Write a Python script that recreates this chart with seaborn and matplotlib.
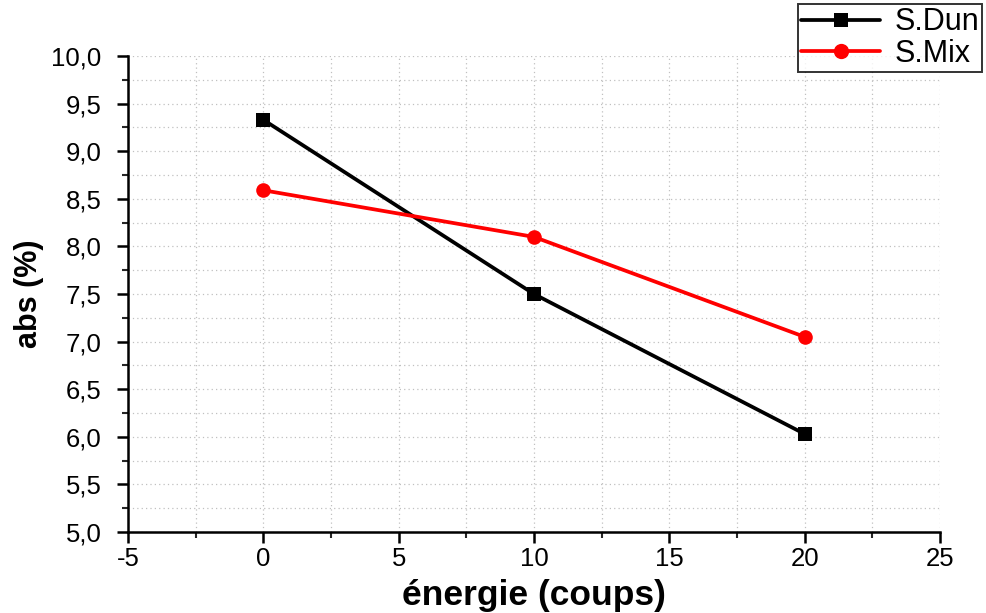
import matplotlib
matplotlib.use("Agg")
import matplotlib.pyplot as plt
import seaborn as sns
import pandas as pd
from matplotlib.ticker import MultipleLocator, FuncFormatter
from matplotlib.lines import Line2D

energie = [0, 10, 20]
s_dun = [9.33, 7.50, 6.03]
s_mix = [8.59, 8.10, 7.05]
series_names = ["S.Dun", "S.Mix"]

sns.set_style("white")
plt.rcParams['font.family'] = ['Liberation Sans', 'DejaVu Sans']
plt.rcParams['text.color'] = 'black'
plt.rcParams['axes.labelcolor'] = 'black'

df = pd.DataFrame({
    "energie": energie * 2,
    "abs": s_dun + s_mix,
    "serie": [series_names[0]] * 3 + [series_names[1]] * 3,
})

fig = plt.figure(figsize=(9.86, 6.13), dpi=100)
ax = fig.add_axes([0.1298, 0.1321, 0.8235, 0.7765])

sns.lineplot(data=df, x="energie", y="abs", hue="serie", style="serie",
             palette={"S.Dun": "black", "S.Mix": "#ff0000"},
             markers={"S.Dun": "s", "S.Mix": "o"}, dashes=False,
             linewidth=2.7, markersize=10.5, markeredgewidth=0, ax=ax, legend=False)

ax.set_xlim(-5, 25)
ax.set_ylim(5.0, 10.0)
ax.xaxis.set_major_locator(MultipleLocator(5))
ax.xaxis.set_minor_locator(MultipleLocator(2.5))
ax.yaxis.set_major_locator(MultipleLocator(0.5))
ax.yaxis.set_minor_locator(MultipleLocator(0.25))
ax.yaxis.set_major_formatter(FuncFormatter(lambda v, p: f"{v:.1f}".replace(".", ",")))
ax.xaxis.set_major_formatter(FuncFormatter(lambda v, p: f"{v:g}"))

ax.grid(True, which="both", color="#c0c0c0", linestyle=(0, (1, 2.5)), linewidth=0.9)
for s in ["top", "right"]:
    ax.spines[s].set_visible(False)
for s in ["left", "bottom"]:
    ax.spines[s].set_color("black")
    ax.spines[s].set_linewidth(1.8)

ax.tick_params(which="major", direction="out", length=8, width=1.8, labelsize=18.5,
               colors="black", labelcolor="black", left=True, bottom=True)
ax.tick_params(axis="y", which="major", pad=11)
ax.tick_params(axis="x", which="major", pad=3)
ax.tick_params(which="minor", direction="out", length=4.5, width=1.5, left=True, bottom=True)

ax.set_xlabel("énergie (coups)", fontsize=25.5, fontweight="bold", color="black", va="center")
ax.xaxis.set_label_coords(0.5, -0.134)
ax.set_ylabel("abs (%)", fontsize=22, fontweight="bold", color="black", va="center")
ax.yaxis.set_label_coords(-0.122, 0.5)

handles = [
    Line2D([], [], color="black", marker="s", linewidth=2.7, markersize=10, markeredgewidth=0),
    Line2D([], [], color="#ff0000", marker="o", linewidth=2.7, markersize=11, markeredgewidth=0),
]
leg = fig.legend(handles, series_names, loc="upper right", bbox_to_anchor=(0.999, 0.998),
                 fontsize=22, frameon=True, fancybox=False, edgecolor="black",
                 handlelength=2.6, borderpad=0.1, labelspacing=0.05, handletextpad=0.45,
                 borderaxespad=0.1)
leg.get_frame().set_linewidth(1.4)
for t in leg.get_texts():
    t.set_color("black")

fig.savefig("out.png", dpi=100)
